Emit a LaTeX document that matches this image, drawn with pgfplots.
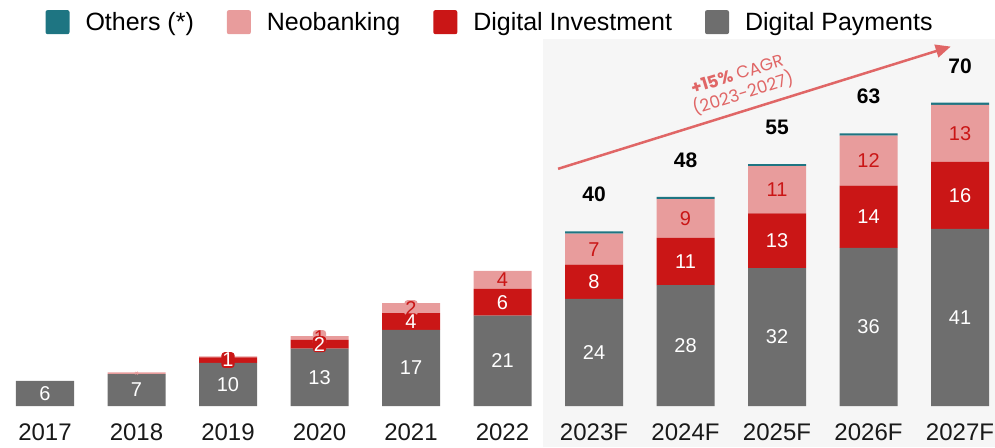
\documentclass[border=0pt]{standalone}
\usepackage{pgfplots}
\pgfplotsset{compat=1.18}
\usepackage{pgfplotstable}
\usetikzlibrary{arrows.meta}
\usepackage{fontspec}
\setmainfont{Liberation Sans}
\newfontfamily\poppins{Poppins}
\definecolor{cdp}{HTML}{6E6E6E}
\definecolor{cdi}{HTML}{CA1616}
\definecolor{cneo}{HTML}{E89C9C}
\definecolor{coth}{HTML}{1E7582}
\definecolor{cshade}{HTML}{F6F6F6}
\definecolor{carrow}{HTML}{E06666}

\pgfplotsset{sqleg/.style={legend image code/.code={\fill[##1, draw=none, rounded corners=2pt] (0pt,-12pt) rectangle (24pt,12pt);}}}

% market size by segment, stacked
\pgfplotstableread{
x  dp   di    neo   oth  tot dpl dil neol
0  5.8  0     0     0    6   6   {}  {}
1  7.4  0     0.4   0    8   7   {}  {}
2  10.0 1.25  0.25  0    11  10  1   {}
3  13.3 2.0   0.9   0    16  13  2   1
4  17.6 3.9   2.3   0    23  17  4   2
5  20.9 6.2   4.2   0    31  21  6   4
6  24.8 7.9   7.2   0.5  40  24  8   7
7  28.0 10.9  9.0   0.5  48  28  11  9
8  31.9 12.7  10.9  0.5  55  32  13  11
9  36.6 14.4  11.6  0.5  63  36  14  12
10 41.0 15.5  13.2  0.5  70  41  16  13
}\mydata

\newcommand\lbl{\fontsize{20}{20}\selectfont}

\begin{document}
\begin{tikzpicture}
% forecast shading
\fill[cshade] (542.7pt,0pt) rectangle (995pt,407.7pt);
\begin{axis}[
    at={(0pt,41pt)}, anchor=south west,
    x=91.5pt, y=4.32pt,
    xmin=-0.4918, xmax=10.383, ymin=0, ymax=84.7,
    ybar stacked, bar width=58pt,
    clip=false,
    axis line style={draw=none},
    ytick=\empty,
    xtick={0,...,10},
    xticklabels={2017,2018,2019,2020,2021,2022,2023F,2024F,2025F,2026F,2027F},
    xtick style={draw=none},
    x tick label style={font=\fontsize{24}{24}\selectfont, text=black!90, anchor=base, yshift=-34pt},
    every axis plot post/.append style={sqleg},
    legend style={at={(0.4925,1.049)}, anchor=center, draw=none, fill=none,
        font=\fontsize{25}{25}\selectfont,
        /tikz/every odd column/.append style={column sep=14pt},
        /tikz/every even column/.append style={column sep=31pt}},
    legend columns=4,
    reverse legend,
]
\addplot[fill=cdp, draw=none, nodes near coords, point meta=explicit symbolic,
    every node near coord/.append style={anchor=center, text=white, font=\lbl}]
    table[x=x, y=dp, meta=dpl] {\mydata};
\addplot[fill=cdi, draw=none, nodes near coords, point meta=explicit symbolic,
    every node near coord/.append style={anchor=center, text=white, font=\lbl,
        fill=cdi, rounded corners=3pt, inner sep=1pt}]
    table[x=x, y=di, meta=dil] {\mydata};
\addplot[fill=cneo, draw=none, nodes near coords, point meta=explicit symbolic,
    every node near coord/.append style={anchor=center, text=cdi, font=\lbl,
        fill=cneo, rounded corners=3pt, inner sep=1pt}]
    table[x=x, y=neo, meta=neol] {\mydata};
\addplot[fill=coth, draw=none, nodes near coords, point meta=explicit symbolic,
    every node near coord/.append style={anchor=center, yshift=38pt, text=black,
        font=\fontsize{21}{21}\selectfont\bfseries}]
    table[x=x, y=oth, meta=tot] {\mydata};
\legend{Digital Payments, Digital Investment, Neobanking, Others (*)}

% growth arrow
\draw[carrow, line width=2.5pt, -{Triangle[length=15pt,width=13pt]}]
    (axis cs:5.607,54.9) -- (axis cs:9.898,83.2);
\node[rotate=17.3, text=carrow, font=\poppins\fontsize{17}{20}\selectfont, align=center]
    at (axis cs:7.6,74.3) {\textbf{+15\%} CAGR\\(2023-2027)};
\end{axis}
\pgfresetboundingbox
\useasboundingbox (0,0) rectangle (995pt,447pt);
\end{tikzpicture}
\end{document}
